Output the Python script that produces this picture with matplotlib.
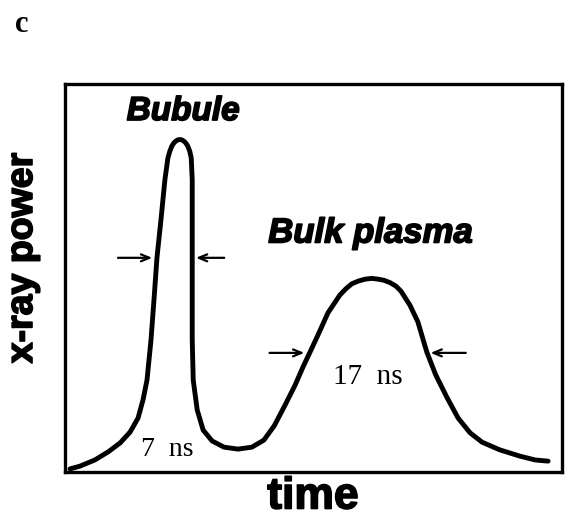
import matplotlib
matplotlib.use("Agg")
import matplotlib.pyplot as plt
import matplotlib.patheffects as pe

# curve: time (0-100 across the box), x-ray power (0-1)
time = [1.0, 3.0, 6.0, 8.7, 11.1, 13.1, 14.7, 15.7, 16.5, 17.3, 17.9, 18.5,
        19.3, 20.1, 20.7, 21.1, 21.5, 21.9, 22.3, 22.7, 23.1, 23.5, 23.9, 24.3,
        24.7, 25.1, 25.4, 25.6, 25.6, 25.6, 25.6, 25.6, 25.8, 26.6, 27.8, 29.6,
        32.0, 34.8, 37.6, 40.0, 42.1, 44.3, 46.3, 47.9, 49.3, 50.9, 52.9, 55.3,
        56.5, 57.7, 59.0, 60.4, 61.7, 63.0, 64.2, 65.4, 66.6, 67.6, 69.4, 71.0,
        72.8, 74.6, 76.9, 79.1, 81.5, 83.9, 87.5, 91.5, 94.6, 97.2]
power = [0.008, 0.015, 0.031, 0.052, 0.075, 0.103, 0.139, 0.186, 0.237, 0.340,
         0.443, 0.552, 0.649, 0.753, 0.809, 0.827, 0.840, 0.848, 0.853, 0.856,
         0.857, 0.856, 0.853, 0.848, 0.840, 0.827, 0.809, 0.753, 0.649, 0.552,
         0.443, 0.340, 0.237, 0.160, 0.108, 0.080, 0.064, 0.059, 0.064, 0.082,
         0.119, 0.173, 0.224, 0.271, 0.309, 0.353, 0.410, 0.456, 0.472, 0.485,
         0.492, 0.497, 0.499, 0.497, 0.494, 0.488, 0.479, 0.466, 0.430, 0.387,
         0.309, 0.250, 0.191, 0.139, 0.101, 0.077, 0.057, 0.041, 0.031, 0.028]
# FWHM arrows: tail time, head time, power level
arrow_tails = [10.1, 32.6, 40.6, 81.2]
arrow_heads = [18.1, 25.8, 48.7, 73.0]
arrow_levels = [0.552, 0.552, 0.307, 0.307]

heavy = [pe.withStroke(linewidth=1.2, foreground="black")]

fig = plt.figure(figsize=(5.67, 5.23), dpi=100)
ax = fig.add_axes([65 / 567, 51 / 523, 497 / 567, 388 / 523])
ax.plot(time, power, color="black", lw=3.5, solid_capstyle="round", solid_joinstyle="round")
ax.set_xlim(0, 100)
ax.set_ylim(0, 1)
ax.set_xticks([])
ax.set_yticks([])
for side in ax.spines.values():
    side.set_linewidth(2.4)

for t0, t1, lvl in zip(arrow_tails, arrow_heads, arrow_levels):
    ax.annotate("", xy=(t1, lvl), xytext=(t0, lvl),
                arrowprops=dict(arrowstyle="->,head_length=0.6,head_width=0.25", color="black", lw=1.6))

ax.text(23.8, 0.929, "Bubule", ha="center", va="center", fontsize=24,
        family="Liberation Sans", weight="bold", style="italic", path_effects=heavy)
ax.text(61.5, 0.616, "Bulk plasma", ha="center", va="center", fontsize=25,
        family="Liberation Sans", weight="bold", style="italic", path_effects=heavy)
ax.text(15.3, 0.040, "7  ns", ha="left", va="baseline", fontsize=20, family="Liberation Serif")
ax.text(61.0, 0.245, "17  ns", ha="center", va="center", fontsize=21, family="Liberation Serif")

fig.text(22 / 567, 1 - 258 / 523, "x-ray power", rotation=90, ha="center", va="center",
         fontsize=27, family="Liberation Sans", weight="bold", path_effects=heavy)
fig.text(313 / 567, 1 - 497 / 523, "time", ha="center", va="center",
         fontsize=32, family="Liberation Sans", weight="bold", path_effects=heavy)
fig.text(22 / 567, 1 - 25 / 523, "c", ha="center", va="center",
         fontsize=22, family="Liberation Serif", weight="bold")

fig.savefig("out.png", dpi=100)
